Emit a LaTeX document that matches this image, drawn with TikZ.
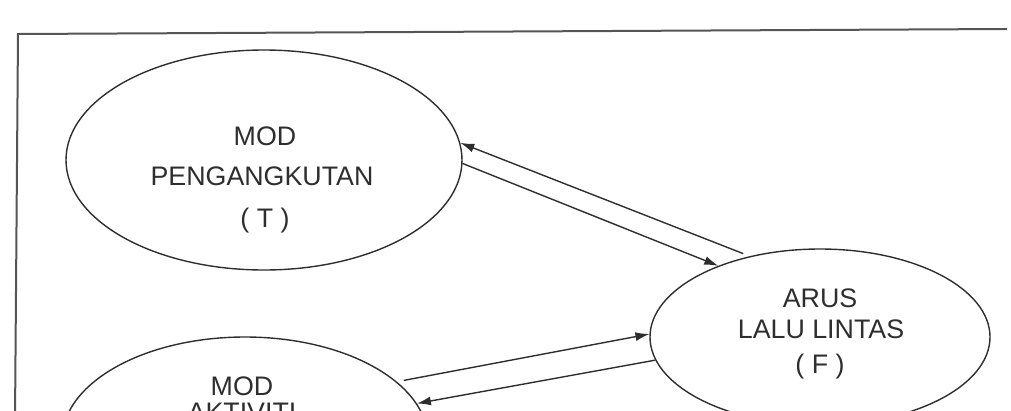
\documentclass[tikz,border=0pt]{standalone}
\usepackage{fontspec}
\setmainfont{Liberation Sans}
\usetikzlibrary{shapes.geometric,arrows.meta}

\definecolor{ink}{HTML}{2E2E2E}
\definecolor{framegray}{HTML}{555555}

\tikzset{
  oval/.style={ellipse, draw=ink, line width=1.4pt, inner sep=0pt},
  lbl/.style={text=ink, anchor=base, inner sep=0pt, font=\fontsize{26.8}{32}\selectfont},
  arr/.style={draw=ink, line width=1.4pt, -{Latex[length=14pt,width=9pt]}},
}

\begin{document}
\begin{tikzpicture}[x=1pt, y=-1pt]
  \useasboundingbox (0,0) rectangle (1011,410);
  \clip (0,0) rectangle (1011,410);

  % page frame
  \draw[framegray, line width=2pt] (15,420) -- (18,34) -- (1007,29);

  % the three ovals
  \node[oval, minimum width=396pt, minimum height=220pt] (T) at (264,160) {};
  \node[oval, minimum width=340pt, minimum height=176pt] (F) at (820,337) {};
  \node[oval, minimum width=366pt, minimum height=206pt] (M) at (245,440) {};

  % labels
  \node[lbl] (t1) at (265,145) {MOD};
  \node[lbl] (t2) at (262,185) {PENGANGKUTAN};
  \node[lbl] (t3) at (265,227) {( T )};

  \node[lbl] (f1) at (820,307) {ARUS};
  \node[lbl] (f2) at (821,338) {LALU LINTAS};
  \node[lbl] (f3) at (820,373) {( F )};

  \node[lbl] (m1) at (242,395) {MOD};
  \node[lbl] (m2) at (242,421) {AKTIVITI};

  % links between the ovals
  \draw[arr, shorten <=7pt] (F.131) -- (T.5);
  \draw[arr] (T.-1) -- (F.145);
  \draw[arr, shorten <=7pt] (M.21) -- (F.179);
  \draw[arr] (F.188) -- (M.12.6);
\end{tikzpicture}
\end{document}
